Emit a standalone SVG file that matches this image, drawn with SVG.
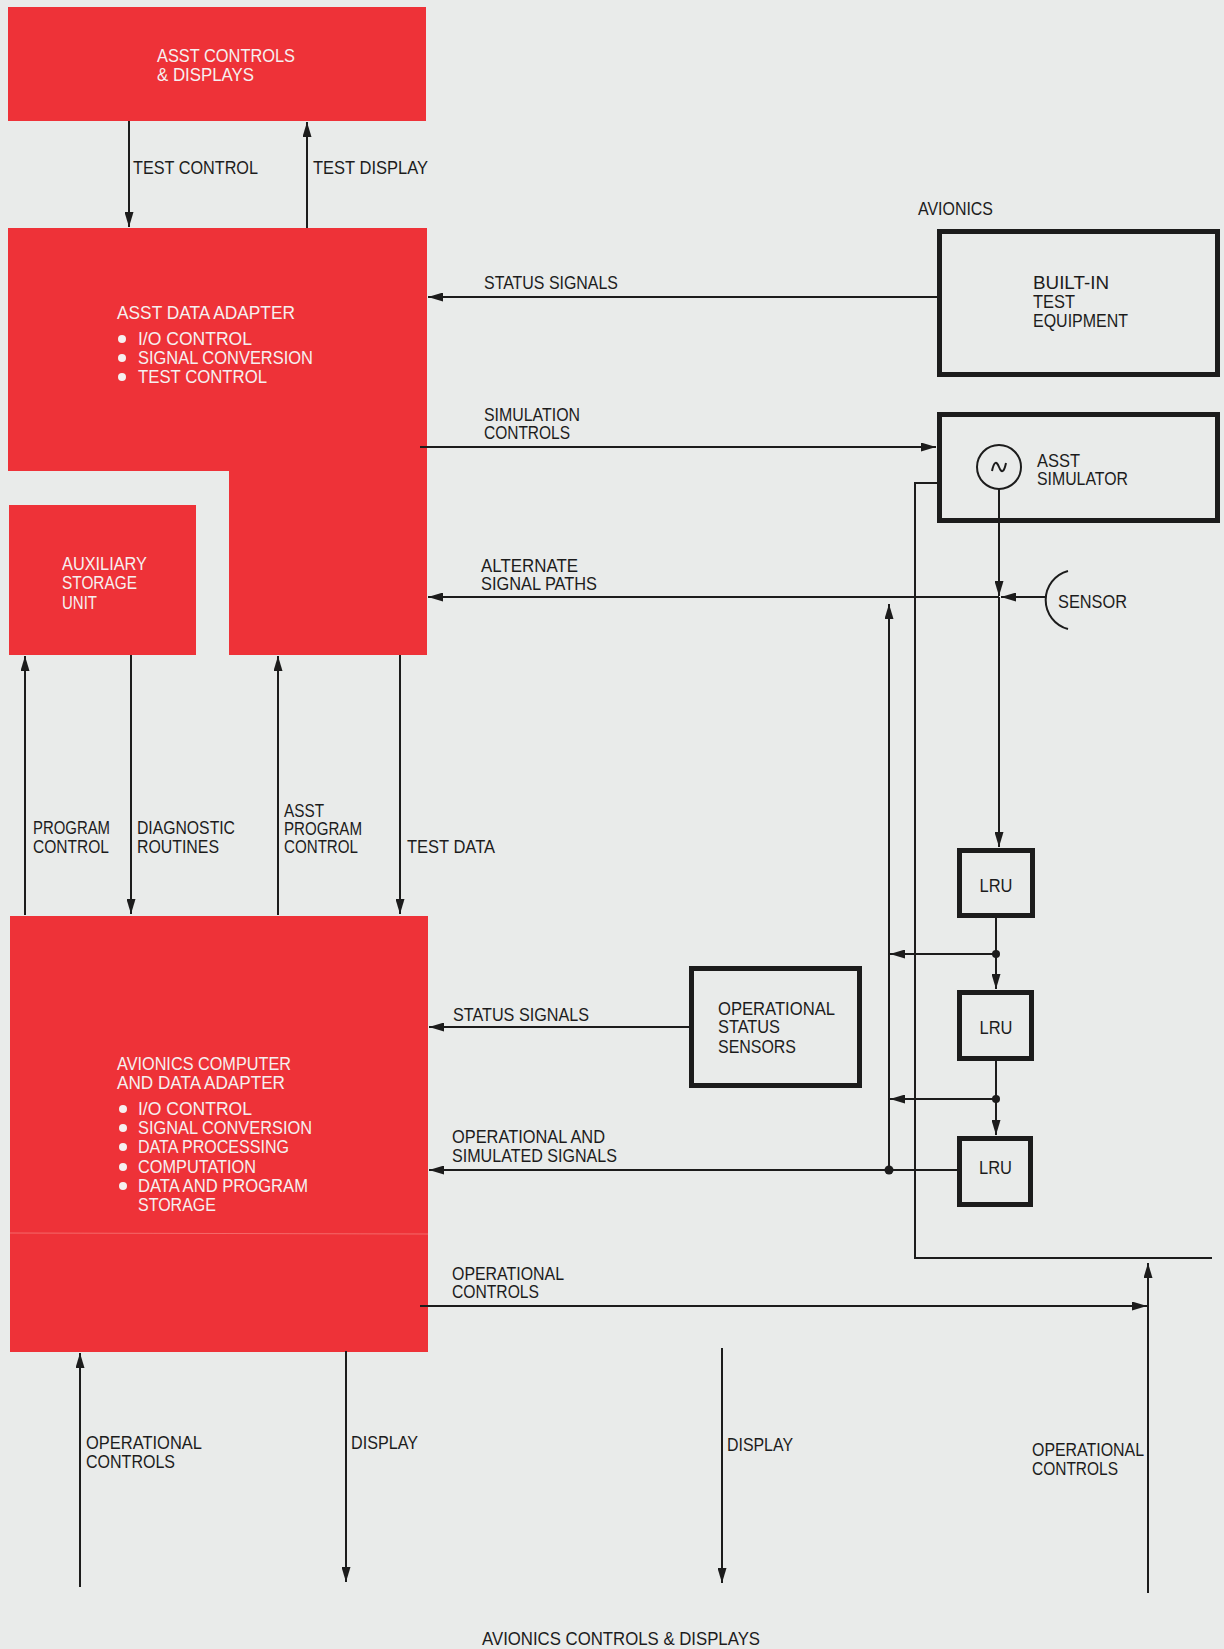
<svg xmlns="http://www.w3.org/2000/svg" width="1224" height="1649" viewBox="0 0 1224 1649">
<defs>
<style>
.bg{fill:#E9EBEA}
.red{fill:#EE3238}
.box{fill:none;stroke:#1c1c1c;stroke-width:5}
.ln{fill:none;stroke:#1c1c1c;stroke-width:2}
.ar{fill:none;stroke:#1c1c1c;stroke-width:2;marker-end:url(#ah)}
.dot{fill:#1c1c1c}
.wb{fill:#F6F0F0}
text{font-family:"Liberation Sans",Arial,sans-serif;font-size:18px}
.wt{fill:#F6F0F0}
.bt{fill:#1c1c1c}
</style>
<marker id="ah" markerUnits="userSpaceOnUse" markerWidth="15" markerHeight="9" refX="15" refY="4.5" orient="auto">
<path d="M0,0 L15,4.5 L0,9 Z" fill="#1c1c1c"/>
</marker>
</defs>
<rect class="bg" x="0" y="0" width="1224" height="1649"/>

<g id="node-asst-controls">
<rect class="red" x="8" y="7" width="418" height="114"/>
<text class="wt" x="157" y="62" textLength="138" lengthAdjust="spacingAndGlyphs">ASST CONTROLS</text>
<text class="wt" x="157" y="81" textLength="97" lengthAdjust="spacingAndGlyphs">&amp; DISPLAYS</text>
</g>

<g id="node-asst-data-adapter">
<path class="red" d="M8,228 H427 V655 H229 V471 H8 Z"/>
<text class="wt" x="117" y="319" textLength="178" lengthAdjust="spacingAndGlyphs">ASST DATA ADAPTER</text>
<circle class="wb" cx="122" cy="339" r="4"/>
<circle class="wb" cx="122" cy="358" r="4"/>
<circle class="wb" cx="122" cy="377" r="4"/>
<text class="wt" x="138" y="345" textLength="114" lengthAdjust="spacingAndGlyphs">I/O CONTROL</text>
<text class="wt" x="138" y="364" textLength="175" lengthAdjust="spacingAndGlyphs">SIGNAL CONVERSION</text>
<text class="wt" x="138" y="383" textLength="129" lengthAdjust="spacingAndGlyphs">TEST CONTROL</text>
</g>

<g id="node-auxiliary-storage">
<rect class="red" x="9" y="505" width="187" height="150"/>
<text class="wt" x="62" y="570" textLength="85" lengthAdjust="spacingAndGlyphs">AUXILIARY</text>
<text class="wt" x="62" y="589" textLength="75" lengthAdjust="spacingAndGlyphs">STORAGE</text>
<text class="wt" x="62" y="609" textLength="35" lengthAdjust="spacingAndGlyphs">UNIT</text>
</g>

<g id="node-avionics-computer">
<rect class="red" x="10" y="916" width="418" height="436"/>
<line x1="10" y1="1233" x2="428" y2="1234" stroke="#F46A6A" stroke-width="1"/>
<text class="wt" x="117" y="1070" textLength="174" lengthAdjust="spacingAndGlyphs">AVIONICS COMPUTER</text>
<text class="wt" x="117" y="1089" textLength="168" lengthAdjust="spacingAndGlyphs">AND DATA ADAPTER</text>
<circle class="wb" cx="123" cy="1109" r="4"/>
<circle class="wb" cx="123" cy="1128" r="4"/>
<circle class="wb" cx="123" cy="1147" r="4"/>
<circle class="wb" cx="123" cy="1167" r="4"/>
<circle class="wb" cx="123" cy="1186" r="4"/>
<text class="wt" x="138" y="1115" textLength="114" lengthAdjust="spacingAndGlyphs">I/O CONTROL</text>
<text class="wt" x="138" y="1134" textLength="174" lengthAdjust="spacingAndGlyphs">SIGNAL CONVERSION</text>
<text class="wt" x="138" y="1153" textLength="151" lengthAdjust="spacingAndGlyphs">DATA PROCESSING</text>
<text class="wt" x="138" y="1173" textLength="118" lengthAdjust="spacingAndGlyphs">COMPUTATION</text>
<text class="wt" x="138" y="1192" textLength="170" lengthAdjust="spacingAndGlyphs">DATA AND PROGRAM</text>
<text class="wt" x="138" y="1211" textLength="78" lengthAdjust="spacingAndGlyphs">STORAGE</text>
</g>

<g id="node-avionics-label">
<text class="bt" x="918" y="215" textLength="75" lengthAdjust="spacingAndGlyphs">AVIONICS</text>
</g>

<g id="node-bit">
<rect class="box" x="939.5" y="231.5" width="278" height="143"/>
<text class="bt" x="1033" y="289" textLength="76" lengthAdjust="spacingAndGlyphs">BUILT-IN</text>
<text class="bt" x="1033" y="308" textLength="42" lengthAdjust="spacingAndGlyphs">TEST</text>
<text class="bt" x="1033" y="327" textLength="95" lengthAdjust="spacingAndGlyphs">EQUIPMENT</text>
</g>

<g id="node-simulator">
<rect class="box" x="939.5" y="414.5" width="278" height="106"/>
<circle cx="999" cy="467" r="22" class="ln"/>
<path class="ln" d="M992,471 Q995,457 999,467 Q1003,477 1006,463"/>
<text class="bt" x="1037" y="467" textLength="43" lengthAdjust="spacingAndGlyphs">ASST</text>
<text class="bt" x="1037" y="485" textLength="91" lengthAdjust="spacingAndGlyphs">SIMULATOR</text>
</g>

<g id="node-sensor">
<path class="ln" d="M1068,571 A30,30 0 0 0 1068,629"/>
<text class="bt" x="1058" y="608" textLength="69" lengthAdjust="spacingAndGlyphs">SENSOR</text>
</g>

<g id="node-op-status-sensors">
<rect class="box" x="691.5" y="968.5" width="168" height="117"/>
<text class="bt" x="718" y="1015" textLength="117" lengthAdjust="spacingAndGlyphs">OPERATIONAL</text>
<text class="bt" x="718" y="1033" textLength="62" lengthAdjust="spacingAndGlyphs">STATUS</text>
<text class="bt" x="718" y="1053" textLength="78" lengthAdjust="spacingAndGlyphs">SENSORS</text>
</g>

<g id="node-lru1">
<rect class="box" x="959.5" y="850.5" width="73" height="65"/>
<text class="bt" x="979.5" y="892" textLength="33" lengthAdjust="spacingAndGlyphs">LRU</text>
</g>
<g id="node-lru2">
<rect class="box" x="959.5" y="992.5" width="72" height="66"/>
<text class="bt" x="979.5" y="1034" textLength="33" lengthAdjust="spacingAndGlyphs">LRU</text>
</g>
<g id="node-lru3">
<rect class="box" x="959.5" y="1138.5" width="71" height="66"/>
<text class="bt" x="979" y="1174" textLength="33" lengthAdjust="spacingAndGlyphs">LRU</text>
</g>

<g id="connectors">
<path class="ar" d="M129,121 V227"/>
<path class="ar" d="M307,228 V122"/>
<path class="ar" d="M937,297 H428"/>
<path class="ar" d="M420,447 H936"/>
<path class="ar" d="M999,489 V596"/>
<path class="ar" d="M999,597 V847"/>
<path class="ar" d="M999,597 H428"/>
<path class="ar" d="M1046,597 H1001"/>
<path class="ln" d="M937,483 H915 V1258 H1212"/>
<path class="ar" d="M889,1170 V604"/>
<path class="ar" d="M996,918 V989"/>
<path class="ar" d="M996,954 H890"/>
<path class="ar" d="M996,1061 V1135"/>
<path class="ar" d="M996,1099 H890"/>
<path class="ar" d="M957,1170 H429"/>
<path class="ar" d="M689,1027 H429"/>
<path class="ar" d="M420,1306 H1147"/>
<path class="ar" d="M1148,1593 V1263"/>
<path class="ar" d="M80,1587 V1353"/>
<path class="ar" d="M346,1351 V1582"/>
<path class="ar" d="M722,1348 V1583"/>
<path class="ar" d="M25,915 V656"/>
<path class="ar" d="M131,655 V914"/>
<path class="ar" d="M278,915 V656"/>
<path class="ar" d="M400,655 V914"/>
<circle class="dot" cx="996" cy="954" r="4"/>
<circle class="dot" cx="996" cy="1099" r="4"/>
<circle class="dot" cx="889" cy="1170" r="4.5"/>

<text class="bt" x="133" y="174" textLength="125" lengthAdjust="spacingAndGlyphs">TEST CONTROL</text>
<text class="bt" x="313" y="174" textLength="115" lengthAdjust="spacingAndGlyphs">TEST DISPLAY</text>
<text class="bt" x="484" y="289" textLength="134" lengthAdjust="spacingAndGlyphs">STATUS SIGNALS</text>
<text class="bt" x="484" y="421" textLength="96" lengthAdjust="spacingAndGlyphs">SIMULATION</text>
<text class="bt" x="484" y="439" textLength="86" lengthAdjust="spacingAndGlyphs">CONTROLS</text>
<text class="bt" x="481" y="572" textLength="97" lengthAdjust="spacingAndGlyphs">ALTERNATE</text>
<text class="bt" x="481" y="590" textLength="116" lengthAdjust="spacingAndGlyphs">SIGNAL PATHS</text>
<text class="bt" x="33" y="834" textLength="77" lengthAdjust="spacingAndGlyphs">PROGRAM</text>
<text class="bt" x="33" y="853" textLength="76" lengthAdjust="spacingAndGlyphs">CONTROL</text>
<text class="bt" x="137" y="834" textLength="98" lengthAdjust="spacingAndGlyphs">DIAGNOSTIC</text>
<text class="bt" x="137" y="853" textLength="82" lengthAdjust="spacingAndGlyphs">ROUTINES</text>
<text class="bt" x="284" y="817" textLength="40" lengthAdjust="spacingAndGlyphs">ASST</text>
<text class="bt" x="284" y="835" textLength="78" lengthAdjust="spacingAndGlyphs">PROGRAM</text>
<text class="bt" x="284" y="853" textLength="74" lengthAdjust="spacingAndGlyphs">CONTROL</text>
<text class="bt" x="407" y="853" textLength="88" lengthAdjust="spacingAndGlyphs">TEST DATA</text>
<text class="bt" x="453" y="1021" textLength="136" lengthAdjust="spacingAndGlyphs">STATUS SIGNALS</text>
<text class="bt" x="452" y="1143" textLength="153" lengthAdjust="spacingAndGlyphs">OPERATIONAL AND</text>
<text class="bt" x="452" y="1162" textLength="165" lengthAdjust="spacingAndGlyphs">SIMULATED SIGNALS</text>
<text class="bt" x="452" y="1280" textLength="112" lengthAdjust="spacingAndGlyphs">OPERATIONAL</text>
<text class="bt" x="452" y="1298" textLength="87" lengthAdjust="spacingAndGlyphs">CONTROLS</text>
<text class="bt" x="86" y="1449" textLength="116" lengthAdjust="spacingAndGlyphs">OPERATIONAL</text>
<text class="bt" x="86" y="1468" textLength="89" lengthAdjust="spacingAndGlyphs">CONTROLS</text>
<text class="bt" x="351" y="1449" textLength="67" lengthAdjust="spacingAndGlyphs">DISPLAY</text>
<text class="bt" x="727" y="1451" textLength="66" lengthAdjust="spacingAndGlyphs">DISPLAY</text>
<text class="bt" x="1032" y="1456" textLength="112" lengthAdjust="spacingAndGlyphs">OPERATIONAL</text>
<text class="bt" x="1032" y="1475" textLength="86" lengthAdjust="spacingAndGlyphs">CONTROLS</text>
<text class="bt" x="482" y="1645" textLength="278" lengthAdjust="spacingAndGlyphs">AVIONICS CONTROLS &amp; DISPLAYS</text>
</g>
</svg>
